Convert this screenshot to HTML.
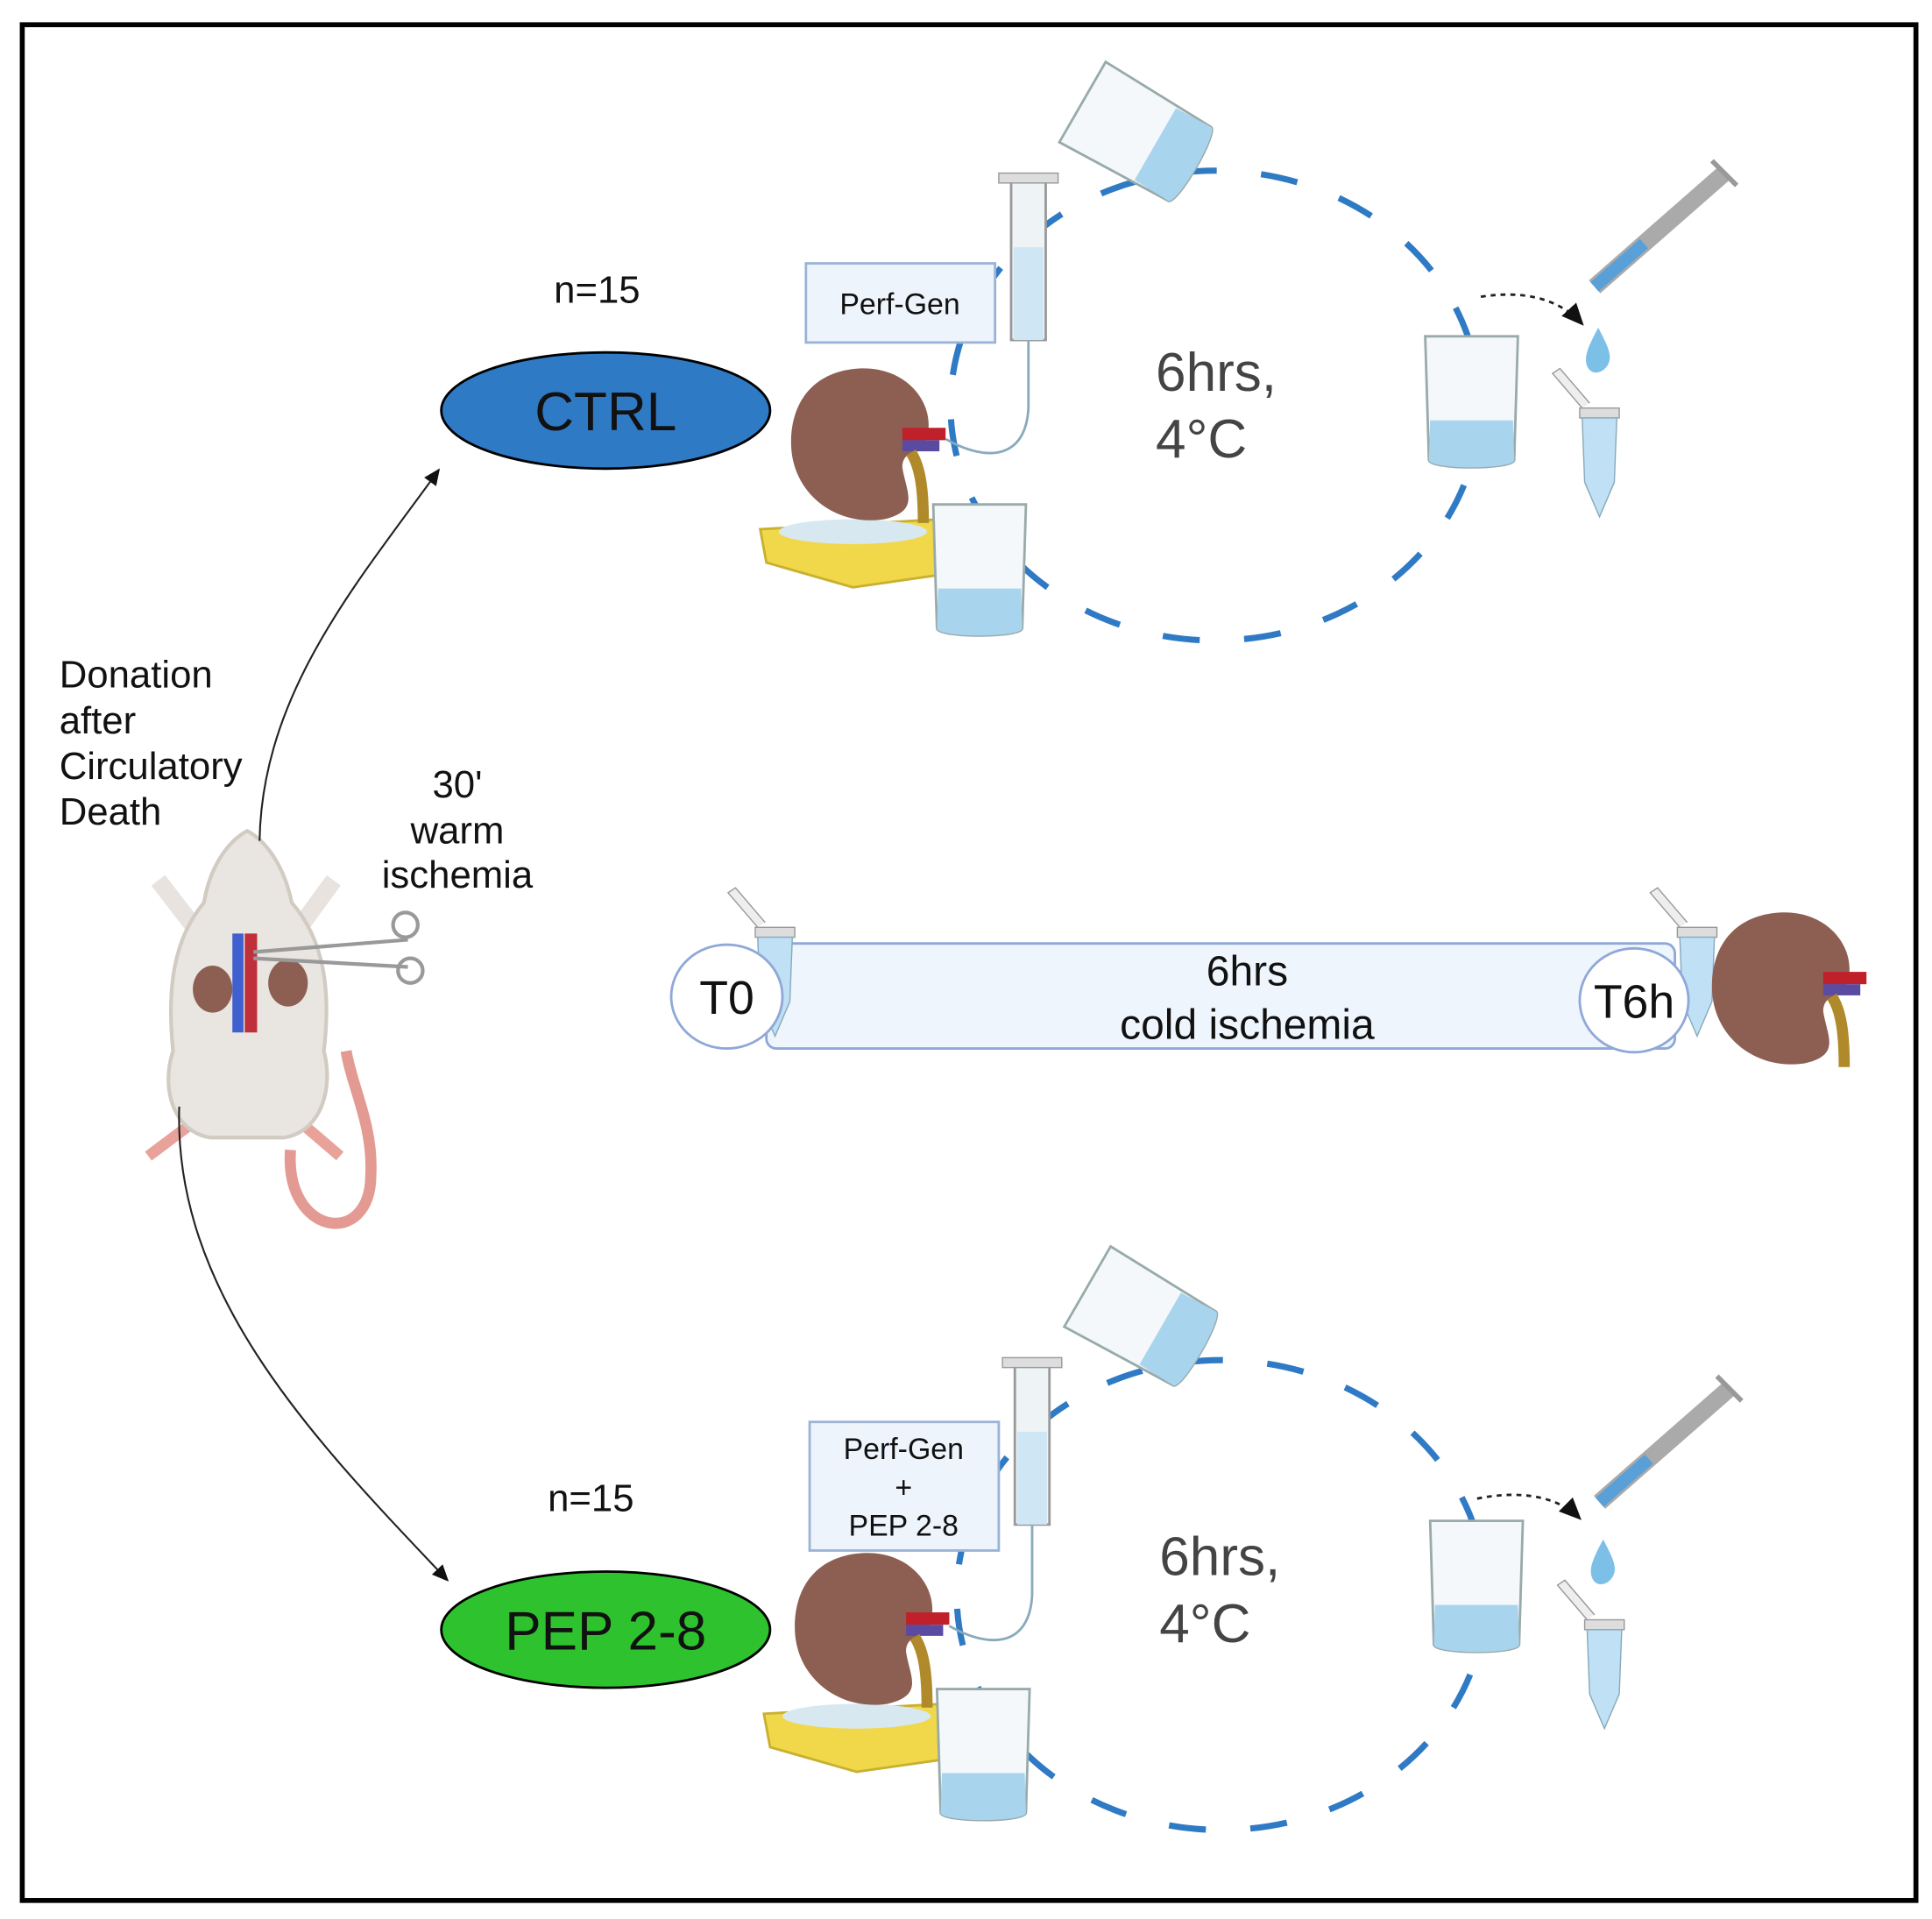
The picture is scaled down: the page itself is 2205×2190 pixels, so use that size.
<!DOCTYPE html>
<html><head><meta charset="utf-8"><style>
html,body{margin:0;padding:0;background:#fff}
svg{display:block}
text{font-family:"Liberation Sans",sans-serif}
</style></head><body>
<svg width="2205" height="2190" viewBox="0 0 1563 1552" preserveAspectRatio="none" xmlns="http://www.w3.org/2000/svg">
<defs>
<marker id="ar" markerWidth="10" markerHeight="10" refX="8" refY="5" orient="auto"><path d="M0,1 L9,5 L0,9 z" fill="#111"/></marker>
<g id="kid">
 <path d="M0,-60 C40,-62 62,-30 55,-5 C50,10 35,5 35,20 C38,40 50,55 20,62 C-20,68 -55,40 -55,0 C-55,-35 -35,-58 0,-60z" fill="#8d5f52"/>
 <rect x="35" y="-12" width="35" height="10" fill="#c0202a"/>
 <rect x="35" y="-2" width="30" height="9" fill="#5a4aa0"/>
 <path d="M42,8 C50,20 52,40 52,65" stroke="#b08a2a" stroke-width="9" fill="none"/>
</g>
<g id="beaker">
 <path d="M0,0 L75,0 L72,100 C72,108 3,108 3,100 Z" fill="#f4f8fb" stroke="#9aa" stroke-width="2"/>
 <path d="M4,68 L71,68 L72,100 C72,108 3,108 3,100 Z" fill="#a8d4ee"/>
</g>
<g id="tube">
 <rect x="-16" y="0" width="32" height="8" fill="#ddd" stroke="#999"/>
 <path d="M-14,8 L14,8 L12,60 L0,88 L-12,60 Z" fill="#bfe0f5" stroke="#8ab"/>
 <path d="M-14,0 L-38,-28 L-32,-32 L-8,-4" fill="#eee" stroke="#999"/>
</g>
<g id="unit">
 <ellipse cx="0" cy="0" rx="214" ry="190" fill="none" stroke="#2f7ac4" stroke-width="5" stroke-dasharray="30 36"/>
</g>
</defs>
<rect x="18" y="20" width="1532" height="1517" fill="#fff" stroke="#000" stroke-width="4"/>

<!-- rat -->
<path d="M235,930 C230,1000 300,1010 300,950 C302,910 285,880 280,850" stroke="#e39a92" stroke-width="9" fill="none"/>
<path d="M120,935 L160,905 M275,935 L240,905" stroke="#e8a29a" stroke-width="9"/>
<path d="M128,712 L165,760 M270,712 L235,760" stroke="#e8e3de" stroke-width="14"/>
<path d="M200,672 C185,680 170,700 165,730 C140,760 135,800 140,850 C130,880 140,915 170,920 L230,920 C260,915 270,880 262,850 C268,800 262,760 236,730 C230,700 215,680 200,672Z" fill="#e9e5e1" stroke="#d2cbc2" stroke-width="3"/>
<rect x="188" y="755" width="9" height="80" fill="#4060d0"/>
<rect x="198" y="755" width="10" height="80" fill="#c0303a"/>
<ellipse cx="172" cy="800" rx="16" ry="19" fill="#8d5f52"/>
<ellipse cx="233" cy="795" rx="16" ry="19" fill="#8d5f52"/>
<path d="M205,770 L330,760 M205,775 L330,782" stroke="#999" stroke-width="3"/>
<circle cx="328" cy="748" r="10" fill="none" stroke="#999" stroke-width="3"/>
<circle cx="332" cy="785" r="10" fill="none" stroke="#999" stroke-width="3"/>

<!-- arrows -->
<path d="M210,680 C212,560 290,470 355,380" stroke="#222" stroke-width="1.5" fill="none" marker-end="url(#ar)"/>
<path d="M145,895 C140,1050 260,1170 362,1278" stroke="#222" stroke-width="1.5" fill="none" marker-end="url(#ar)"/>

<!-- left texts -->
<g font-size="31" fill="#111">
<text x="48" y="556">Donation</text><text x="48" y="593">after</text><text x="48" y="630">Circulatory</text><text x="48" y="667">Death</text>
<text x="370" y="645" text-anchor="middle">30'</text><text x="370" y="682" text-anchor="middle">warm</text><text x="370" y="718" text-anchor="middle">ischemia</text>
<text x="483" y="245" text-anchor="middle">n=15</text>
<text x="478" y="1222" text-anchor="middle">n=15</text>
</g>

<ellipse cx="490" cy="332" rx="133" ry="47" fill="#2f7ac4" stroke="#000" stroke-width="2"/>
<text x="490" y="348" font-size="44" text-anchor="middle" fill="#111">CTRL</text>
<ellipse cx="490" cy="1318" rx="133" ry="47" fill="#2ec32e" stroke="#000" stroke-width="2"/>
<text x="490" y="1334" font-size="44" text-anchor="middle" fill="#111">PEP 2-8</text>

<!-- top unit -->
<use href="#unit" x="983" y="328"/>
<g>
 <rect x="652" y="213" width="153" height="64" fill="#eef4fc" stroke="#9ab3d6" stroke-width="2"/>
 <text x="728" y="254" font-size="24" text-anchor="middle" fill="#111">Perf-Gen</text>
 <rect x="818" y="145" width="28" height="130" fill="#eef3f6" stroke="#999" stroke-width="2"/>
 <rect x="808" y="140" width="48" height="8" fill="#ddd" stroke="#999"/>
 <rect x="820" y="200" width="24" height="75" fill="#cfe6f5"/>
 <path d="M832,275 L832,330 C830,370 800,375 765,355" stroke="#8ab" stroke-width="2" fill="none"/>
 <path d="M615,428 L760,420 L760,465 L690,475 L620,455 Z" fill="#f0d84a" stroke="#c8b030" stroke-width="2"/>
 <ellipse cx="690" cy="430" rx="60" ry="10" fill="#d8e8f0"/>
 <use href="#kid" x="695" y="358"/>
 <use href="#beaker" x="755" y="408"/>
 <g transform="translate(857,115) rotate(-60)"><use href="#beaker"/></g>
 <use href="#beaker" x="1153" y="272"/>
 <g transform="translate(1294,330)"><use href="#tube"/></g>
 <path d="M1293,265 C1285,280 1280,290 1285,298 C1290,305 1300,300 1302,292 C1304,285 1298,275 1293,265Z" fill="#7cc0e8"/>
 <path d="M1198,240 C1230,235 1260,240 1280,262" stroke="#222" stroke-width="2" stroke-dasharray="4 4" fill="none" marker-end="url(#ar)"/>
 <path d="M1290,232 L1395,140" stroke="#aaa" stroke-width="14"/>
 <path d="M1290,232 L1330,197" stroke="#5aa0d8" stroke-width="10"/>
 <path d="M1385,130 L1405,150" stroke="#999" stroke-width="4"/>
 <text x="935" y="316" font-size="44" fill="#444">6hrs,</text>
 <text x="935" y="370" font-size="44" fill="#444">4°C</text>
</g>

<!-- bottom unit -->
<use href="#unit" x="988" y="1290"/>
<g>
 <rect x="655" y="1150" width="153" height="104" fill="#eef4fc" stroke="#9ab3d6" stroke-width="2"/>
 <text x="731" y="1180" font-size="24" text-anchor="middle" fill="#111">Perf-Gen</text>
 <text x="731" y="1211" font-size="24" text-anchor="middle" fill="#111">+</text>
 <text x="731" y="1242" font-size="24" text-anchor="middle" fill="#111">PEP 2-8</text>
 <rect x="821" y="1103" width="28" height="130" fill="#eef3f6" stroke="#999" stroke-width="2"/>
 <rect x="811" y="1098" width="48" height="8" fill="#ddd" stroke="#999"/>
 <rect x="823" y="1158" width="24" height="75" fill="#cfe6f5"/>
 <path d="M835,1233 L835,1290 C833,1330 803,1335 768,1315" stroke="#8ab" stroke-width="2" fill="none"/>
 <path d="M618,1386 L763,1378 L763,1423 L693,1433 L623,1413 Z" fill="#f0d84a" stroke="#c8b030" stroke-width="2"/>
 <ellipse cx="693" cy="1388" rx="60" ry="10" fill="#d8e8f0"/>
 <use href="#kid" x="698" y="1316"/>
 <use href="#beaker" x="758" y="1366"/>
 <g transform="translate(861,1073) rotate(-60)"><use href="#beaker"/></g>
 <use href="#beaker" x="1157" y="1230"/>
 <g transform="translate(1298,1310)"><use href="#tube"/></g>
 <path d="M1297,1245 C1289,1260 1284,1270 1289,1278 C1294,1285 1304,1280 1306,1272 C1308,1265 1302,1255 1297,1245Z" fill="#7cc0e8"/>
 <path d="M1195,1212 C1230,1205 1260,1210 1278,1228" stroke="#222" stroke-width="2" stroke-dasharray="4 4" fill="none" marker-end="url(#ar)"/>
 <path d="M1294,1215 L1399,1123" stroke="#aaa" stroke-width="14"/>
 <path d="M1294,1215 L1334,1180" stroke="#5aa0d8" stroke-width="10"/>
 <path d="M1389,1113 L1409,1133" stroke="#999" stroke-width="4"/>
 <text x="938" y="1274" font-size="44" fill="#444">6hrs,</text>
 <text x="938" y="1328" font-size="44" fill="#444">4°C</text>
</g>

<!-- cold ischemia bar -->
<rect x="620" y="763" width="735" height="85" rx="8" fill="#eef5fd" stroke="#8fa8d8" stroke-width="2"/>
<g transform="translate(627,750)"><use href="#tube"/></g>
<g transform="translate(1373,750)"><use href="#tube"/></g>
<ellipse cx="588" cy="806" rx="45" ry="42" fill="#fff" stroke="#8fa8d8" stroke-width="2"/>
<ellipse cx="1322" cy="809" rx="44" ry="42" fill="#fff" stroke="#8fa8d8" stroke-width="2"/>
<text x="588" y="820" font-size="38" text-anchor="middle" fill="#111">T0</text>
<text x="1322" y="823" font-size="38" text-anchor="middle" fill="#111">T6h</text>
<text x="1009" y="797" font-size="34" text-anchor="middle" fill="#111">6hrs</text>
<text x="1009" y="840" font-size="34" text-anchor="middle" fill="#111">cold ischemia</text>
<use href="#kid" x="1440" y="798"/>
</svg>
</body></html>
